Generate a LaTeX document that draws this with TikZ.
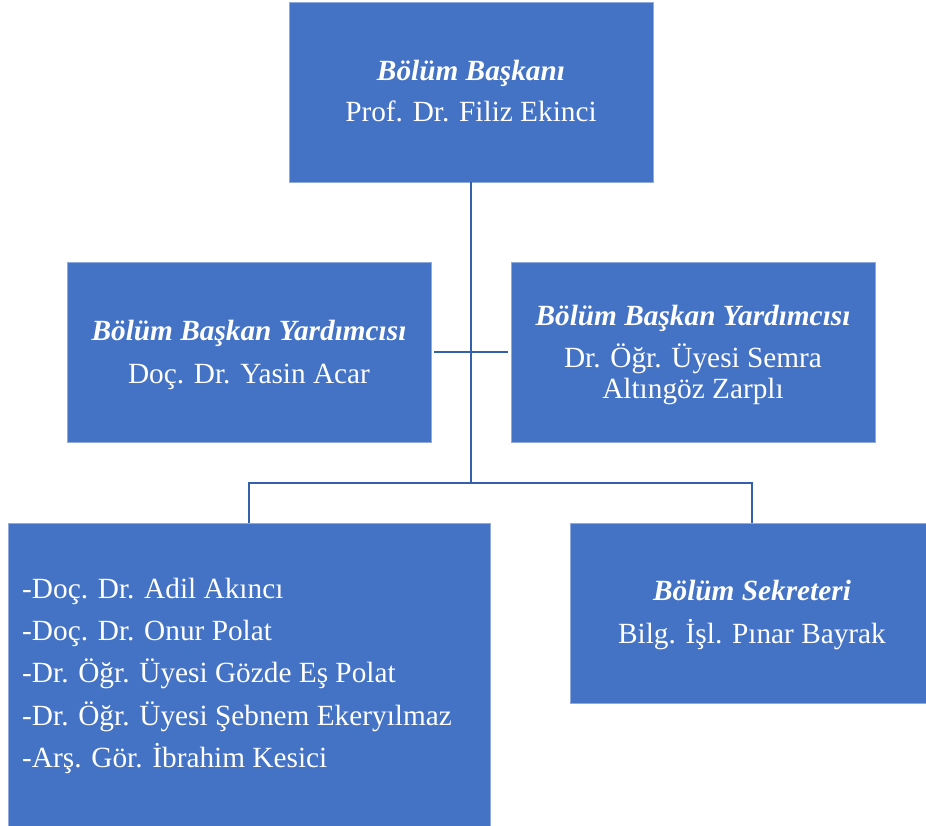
\documentclass[tikz,border=0pt]{standalone}
\usepackage{fontspec}
\setmainfont{Liberation Serif}
\definecolor{boxblue}{HTML}{4472C4}
\definecolor{lineblue}{HTML}{3560AB}
\begin{document}
\begin{tikzpicture}[x=1pt,y=-1pt,
  orgbox/.style={fill=boxblue,draw=boxblue!60!white,line width=0.6pt,minimum width=364pt,minimum height=180pt,inner sep=0pt,outer sep=0pt},
  txt/.style={text=white,anchor=base,inner sep=0pt,font=\fontsize{29.3}{40}\selectfont},
  ttl/.style={txt,font=\fontsize{29.3}{40}\selectfont\bfseries\itshape},
  conn/.style={draw=lineblue,line width=2.2pt}]
\clip (0,0) rectangle (926,825);
\useasboundingbox (0,0) rectangle (926,825);

\node[orgbox] (top) at (471,92) {};
\node[orgbox] (lm) at (249,352) {};
\node[orgbox] (rm) at (693,352) {};
\node[orgbox,minimum width=482pt,minimum height=310pt] (bl) at (249,678) {};
\node[orgbox] (br) at (752,613) {};

\coordinate (junc) at (471,483);

\draw[conn] (top.south) -- (junc);
\draw[conn] ([xshift=3pt]lm.east) -- ([xshift=-3pt]rm.west);
\draw[conn] (bl.north) |- (junc) -| (br.north);

\node[ttl] (t1) at (471,80) {Bölüm Başkanı};
\node[txt] (t2) at (471,121) {Prof. Dr. Filiz Ekinci};

\node[ttl] (l1) at (249,340) {Bölüm Başkan Yardımcısı};
\node[txt] (l2) at (249,383) {Doç. Dr. Yasin Acar};

\node[ttl] (r1) at (693,325) {Bölüm Başkan Yardımcısı};
\node[txt] (r2) at (693,367) {Dr. Öğr. Üyesi Semra};
\node[txt] (r3) at (693,398) {Altıngöz Zarplı};

\node[txt,anchor=base west] (b1) at (22,598) {-Doç. Dr. Adil Akıncı};
\node[txt,anchor=base west] (b2) at (22,640) {-Doç. Dr. Onur Polat};
\node[txt,anchor=base west] (b3) at (22,682) {-Dr. Öğr. Üyesi Gözde Eş Polat};
\node[txt,anchor=base west] (b4) at (22,725) {-Dr. Öğr. Üyesi Şebnem Ekeryılmaz};
\node[txt,anchor=base west] (b5) at (22,767) {-Arş. Gör. İbrahim Kesici};

\node[ttl] (s1) at (752,600) {Bölüm Sekreteri};
\node[txt] (s2) at (752,643) {Bilg. İşl. Pınar Bayrak};
\end{tikzpicture}
\end{document}
